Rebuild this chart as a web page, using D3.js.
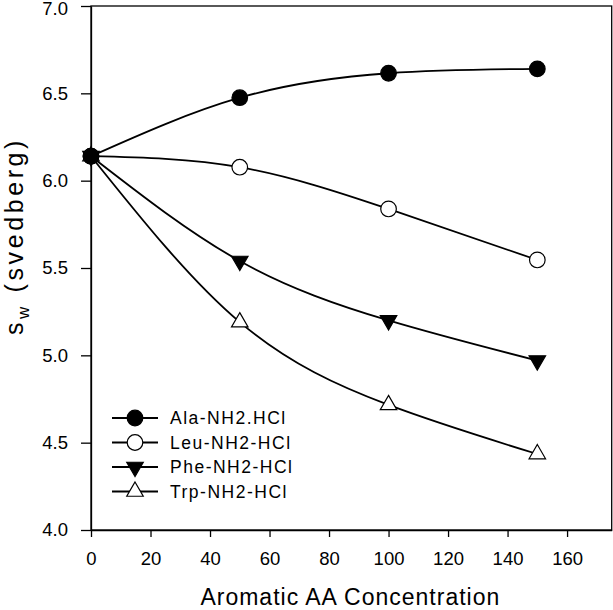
<!DOCTYPE html>
<html><head><meta charset="utf-8">
<script src="https://cdn.jsdelivr.net/npm/d3@7/dist/d3.min.js"></script>
<style>body{margin:0;background:#fff;} text{font-family:Arial,"Liberation Sans",sans-serif;fill:#000;}</style>
</head><body>
<svg id="chart" width="613" height="610"></svg>
<script>
const concentrations = [0, 50, 100, 150];
const seriesNames = ["Ala-NH2.HCl", "Leu-NH2-HCl", "Phe-NH2-HCl", "Trp-NH2-HCl"];
const alaValues = [6.14, 6.475, 6.615, 6.64];
const leuValues = [6.14, 6.077, 5.838, 5.546];
const pheValues = [6.14, 5.54, 5.20, 4.97];
const trpValues = [6.14, 5.19, 4.716, 4.435];
const xTicks = [0, 20, 40, 60, 80, 100, 120, 140, 160];
const yTicks = [4.0, 4.5, 5.0, 5.5, 6.0, 6.5, 7.0];
const markerTypes = ["filledCircle", "openCircle", "filledDown", "openUp"];

const svg = d3.select("#chart");
const L = 91, R = 611.7, T = 6, B = 530;
const x = d3.scaleLinear().domain([0, 175]).range([L, R]);
const y = d3.scaleLinear().domain([4, 7]).range([B, T]);

// frame
svg.append("rect").attr("x", L).attr("y", T).attr("width", R - L).attr("height", B - T)
  .attr("fill", "none").attr("stroke", "#000").attr("stroke-width", 1.3);

const xAxis = svg.append("g").attr("transform", `translate(0,${B})`)
  .call(d3.axisBottom(x).tickValues(xTicks).tickFormat(d3.format("d")).tickSizeInner(7).tickSizeOuter(0).tickPadding(15));
const yAxis = svg.append("g").attr("transform", `translate(${L},0)`)
  .call(d3.axisLeft(y).tickValues(yTicks).tickFormat(d3.format(".1f")).tickSizeInner(10).tickSizeOuter(0).tickPadding(13));
[xAxis, yAxis].forEach(a => {
  a.select(".domain").attr("stroke", "#000").attr("stroke-width", 1.3);
  a.selectAll(".tick line").attr("stroke", "#000").attr("stroke-width", 1.3);
  a.selectAll(".tick text").attr("font-size", 18.5).attr("font-family", "Arial, 'Liberation Sans', sans-serif").attr("fill", "#000");
});
yAxis.selectAll(".tick text").filter(d => d === 7).attr("dy", "0.45em");

// titles
svg.append("text").attr("x", (L + R) / 2 - 1).attr("y", 605).attr("text-anchor", "middle")
  .attr("font-size", 23).attr("letter-spacing", 1).text("Aromatic AA Concentration");
const yl = svg.append("text").attr("transform", "translate(23,236) rotate(-90)").attr("text-anchor", "middle")
  .attr("font-size", 25).attr("letter-spacing", 3.6);
yl.append("tspan").text("s");
yl.append("tspan").attr("font-size", 17).attr("dy", 6).text("w");
yl.append("tspan").attr("dy", -6).text(" (svedberg)");

const allSeries = [alaValues, leuValues, pheValues, trpValues];
const line = d3.line().x((d, i) => x(concentrations[i])).y(d => y(d)).curve(d3.curveNatural);

function drawMarker(g, type, cx, cy) {
  if (type === "filledCircle" || type === "openCircle") {
    g.append("circle").attr("cx", cx).attr("cy", cy).attr("r", 7.8)
      .attr("fill", type === "filledCircle" ? "#000" : "#fff").attr("stroke", "#000").attr("stroke-width", 1.2);
  } else {
    const sym = d3.symbol().type(d3.symbolTriangle).size(118);
    g.append("path").attr("d", sym())
      .attr("transform", `translate(${cx},${cy}) rotate(${type === "filledDown" ? 180 : 0})`)
      .attr("fill", type === "filledDown" ? "#000" : "#fff").attr("stroke", "#000").attr("stroke-width", 1.2);
  }
}

allSeries.forEach((vals, s) => {
  svg.append("path").attr("d", line(vals)).attr("fill", "none").attr("stroke", "#000").attr("stroke-width", 1.8);
});
[3, 2, 1, 0].forEach(s => {
  const g = svg.append("g");
  allSeries[s].forEach((v, i) => drawMarker(g, markerTypes[s], x(concentrations[i]), y(v)));
});

// legend
const lg = svg.append("g");
seriesNames.forEach((name, i) => {
  const cy = 418 + i * 24.5;
  lg.append("line").attr("x1", 112).attr("x2", 158).attr("y1", cy).attr("y2", cy).attr("stroke", "#000").attr("stroke-width", 1.8);
  drawMarker(lg, markerTypes[i], 135, cy);
  lg.append("text").attr("x", 170).attr("y", cy + 6).attr("font-size", 17.5).attr("letter-spacing", 1.5).text(name);
});
</script>
</body></html>
